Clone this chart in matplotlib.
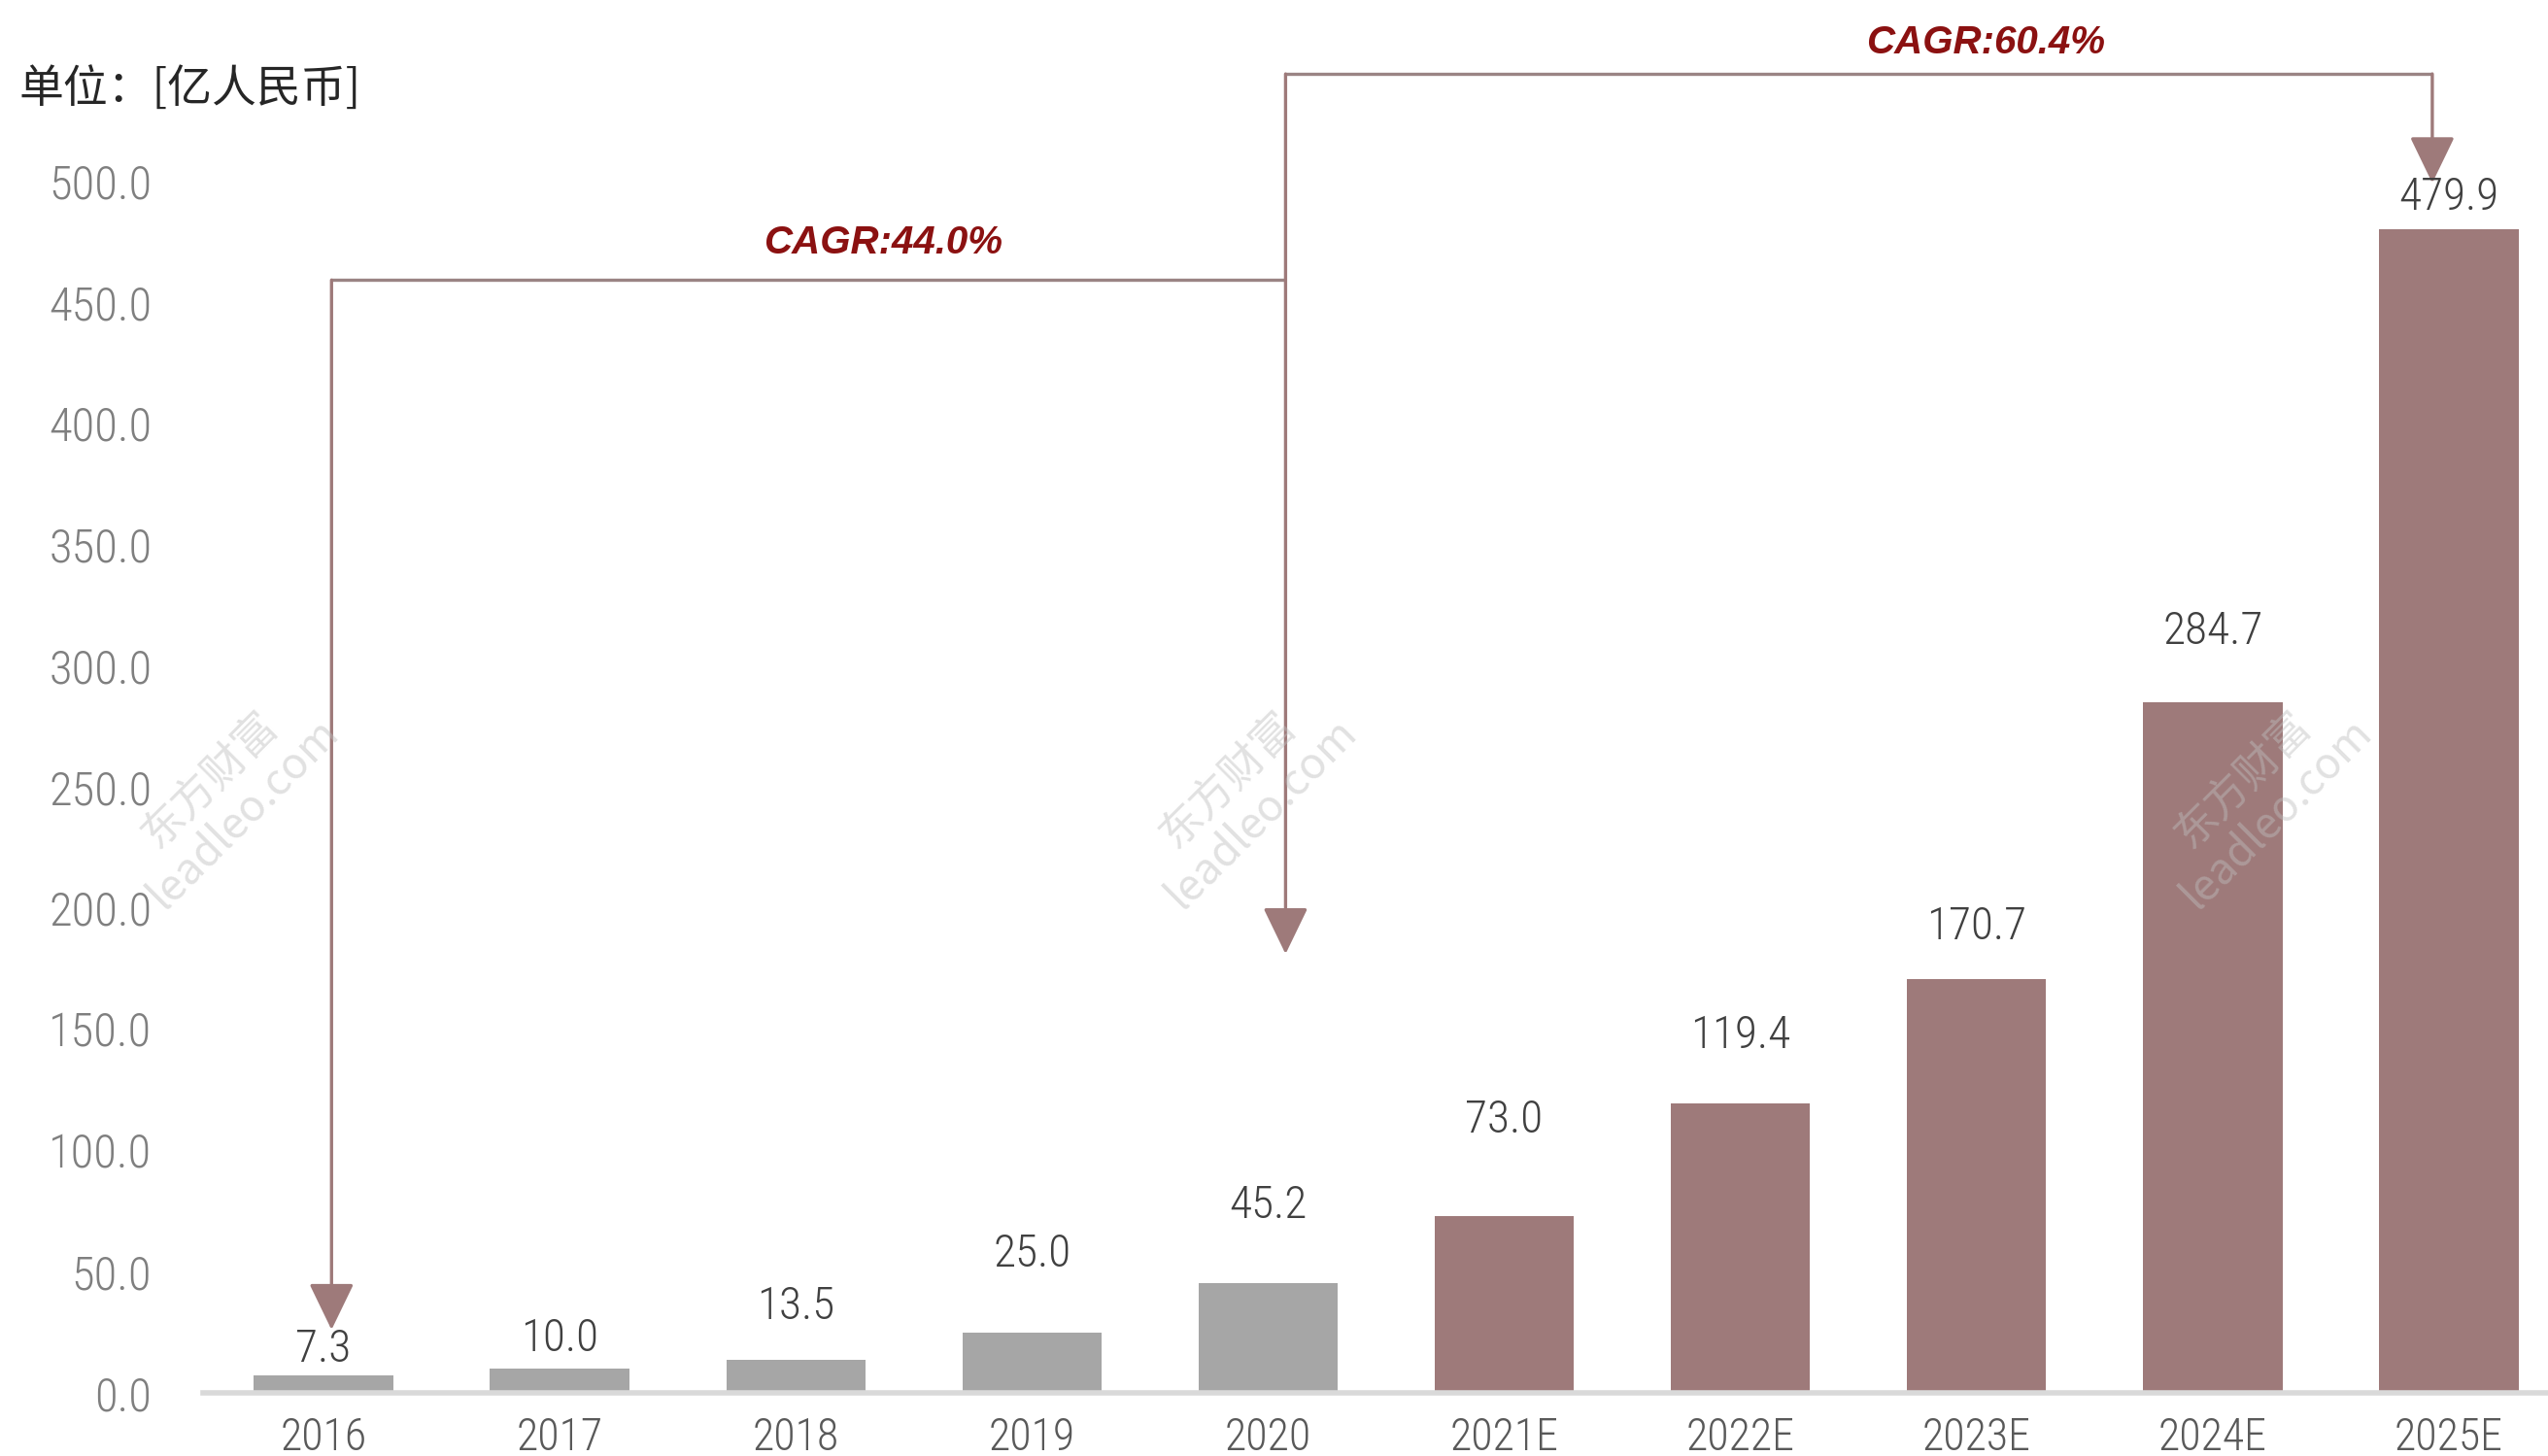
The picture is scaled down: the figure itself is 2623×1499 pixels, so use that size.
import matplotlib
matplotlib.use("Agg")
import matplotlib.pyplot as plt
from matplotlib import font_manager as fm

# ---------------- data ----------------
categories = ["2016", "2017", "2018", "2019", "2020",
              "2021E", "2022E", "2023E", "2024E", "2025E"]
values = [7.3, 10.0, 13.5, 25.0, 45.2, 73.0, 119.4, 170.7, 284.7, 479.9]
is_forecast = [False, False, False, False, False, True, True, True, True, True]
yticks = [0, 50, 100, 150, 200, 250, 300, 350, 400, 450, 500]
unit_label = "单位：[亿人民币]"
cagr1_label = "CAGR:44.0%"
cagr2_label = "CAGR:60.4%"
watermark = "东方财富\nleadleo.com"

# label vertical offsets (points) as in the original
label_offsets = [19, 22, 40, 58, 58, 71, 50, 39, 53, 24]

# ---------------- style ----------------
available = {f.name for f in fm.fontManager.ttflist}
cands = ["Roboto Condensed", "Liberation Sans Narrow", "Liberation Sans"]
base = next(c for c in cands if c in available)
num_font = [base, "DejaVu Sans"]
cagr_font = ["Liberation Sans", "DejaVu Sans"]
cjk_font = ["Noto Sans CJK SC", "DejaVu Sans"]

GREY_BAR = "#A6A6A6"
BROWN_BAR = "#9E7A7A"
LINE_C = "#9A8484"
HEAD_C = "#9E7A7A"
CAGR_C = "#8B1111"

fig = plt.figure(figsize=(26.23, 14.99), dpi=100)
ax = fig.add_axes([0.0797, 0.0434, 1 - 0.0797, 1 - 0.0434])

x = list(range(len(categories)))
colors = [BROWN_BAR if f else GREY_BAR for f in is_forecast]
ax.bar(x, values, width=0.59, color=colors, zorder=2)

ax.set_xlim(-0.51, 9.42)
ax.set_ylim(0, 574.5)

ax.set_yticks(yticks)
ax.set_yticklabels([f"{v:.1f}" for v in yticks], fontfamily=num_font,
                   fontsize=35, fontweight="light", color="#7F7F7F")
ax.set_xticks(x)
ax.set_xticklabels(categories, fontfamily=num_font, fontsize=33,
                   fontweight="light", color="#595959")
ax.tick_params(axis="both", length=0)
ax.tick_params(axis="y", pad=38)
ax.tick_params(axis="x", pad=17)

for s in ["top", "right", "left"]:
    ax.spines[s].set_visible(False)
ax.spines["bottom"].set_color("#D9D9D9")
ax.spines["bottom"].set_linewidth(4)

# data labels
for xi, v, off in zip(x, values, label_offsets):
    ax.annotate(f"{v:.1f}", xy=(xi, v), xytext=(0, off), textcoords="offset points",
                ha="center", va="center", fontfamily=num_font, fontsize=34,
                fontweight="light", color="#404040", zorder=4)

# unit label
fig.text(20 / 2623, 1 - 92 / 1499, unit_label, fontfamily=cjk_font, fontsize=33,
         color="#262626", ha="left", va="center")

# watermarks
for wx in [-0.41, 3.9, 8.2]:
    ax.text(wx, 246, watermark, rotation=45, ha="center", va="center",
            fontfamily=cjk_font, fontsize=32, color="#BEBEBE", alpha=0.45,
            linespacing=1.05, zorder=5)

# CAGR brackets
lw = 2.4
def seg(x0, y0, x1, y1):
    ax.plot([x0, x1], [y0, y1], color=LINE_C, lw=lw, solid_capstyle="butt",
            clip_on=False, zorder=3)

def arrow(xa, ytop, ytip):
    ax.annotate("", xy=(xa, ytip), xytext=(xa, ytop),
                arrowprops=dict(arrowstyle="-|>,head_width=1.45,head_length=3.0",
                                lw=lw, color=LINE_C, fc=HEAD_C, ec=HEAD_C,
                                shrinkA=0, shrinkB=0, mutation_scale=10),
                annotation_clip=False, zorder=3)

xa1, xa2, xa3 = 0.034, 4.074, 8.93
y1, y2 = 459, 544
seg(xa1, y1, xa2, y1)
arrow(xa1, y1, 26)
seg(xa2, y2, xa3, y2)
arrow(xa2, y2, 181)
arrow(xa3, y2, 499)

ax.text(2.37, 474.5, cagr1_label, ha="center", va="center", fontfamily=cagr_font,
        fontsize=29, fontweight="bold", fontstyle="italic", color=CAGR_C)
ax.text(7.04, 557, cagr2_label, ha="center", va="center", fontfamily=cagr_font,
        fontsize=29, fontweight="bold", fontstyle="italic", color=CAGR_C)

fig.savefig("out.png", dpi=100, facecolor="white")
